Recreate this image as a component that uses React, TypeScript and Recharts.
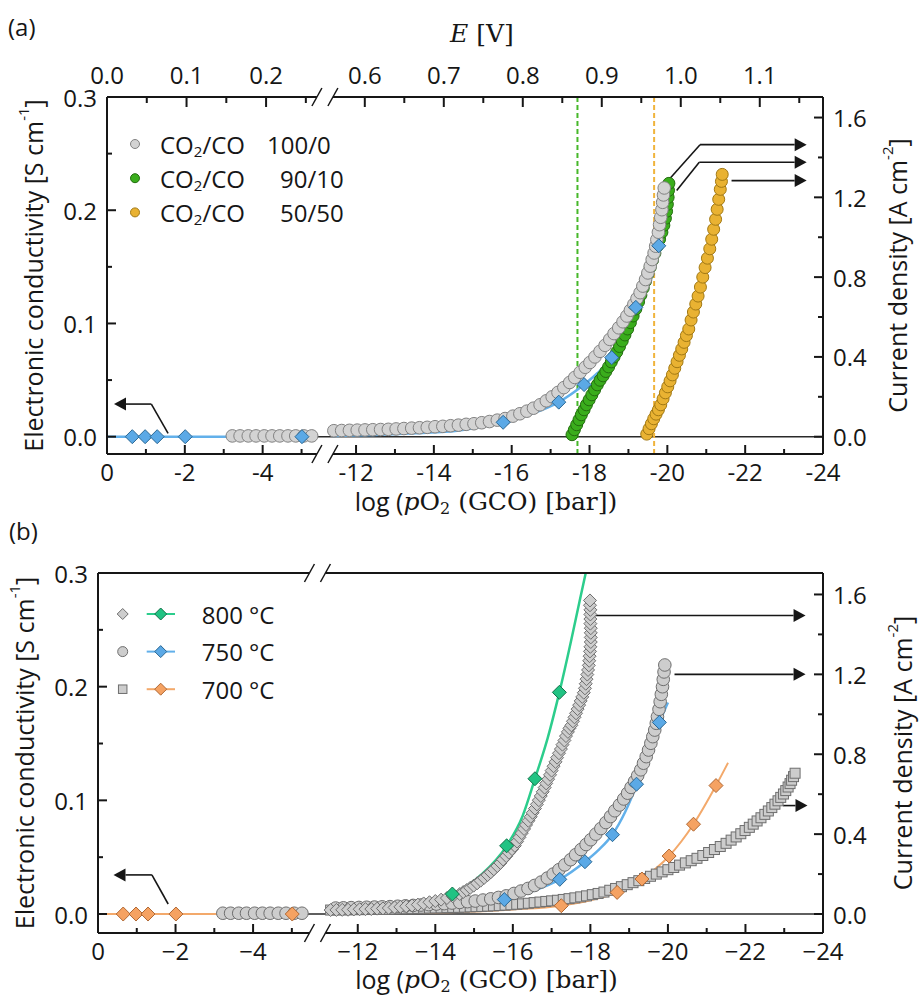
import React from 'react';
import {
  ComposedChart,
  Legend,
  Line,
  ReferenceLine,
  Scatter,
  XAxis,
  YAxis,
} from 'recharts';

type Pt = [number, number];

// ---------- data: [log pO2 (bar), value] ----------
// 750 °C, CO2/CO 100/0 (current density, A cm-2) - same curve in (a) and (b)
const circles750Left: Pt[] = [
  [-3.22, 0.004], [-3.42, 0.004], [-3.63, 0.004], [-3.83, 0.004], [-4.04, 0.004], [-4.24, 0.004],
  [-4.44, 0.004], [-4.65, 0.004], [-4.85, 0.004], [-5.06, 0.004], [-5.26, 0.004],
];
const circles750: Pt[] = [
  [-11.43, 0.03], [-11.63, 0.031], [-11.83, 0.032], [-12.03, 0.033], [-12.23, 0.034], [-12.43, 0.035],
  [-12.63, 0.036], [-12.83, 0.037], [-13.03, 0.039], [-13.23, 0.041], [-13.43, 0.043], [-13.63, 0.045],
  [-13.83, 0.047], [-14.03, 0.05], [-14.23, 0.052], [-14.43, 0.055], [-14.63, 0.058], [-14.83, 0.062],
  [-15.03, 0.065], [-15.23, 0.07], [-15.43, 0.076], [-15.63, 0.083], [-15.83, 0.091], [-16.03, 0.103],
  [-16.21, 0.115], [-16.39, 0.128], [-16.56, 0.143], [-16.73, 0.16], [-16.89, 0.18], [-17.04, 0.2],
  [-17.19, 0.222], [-17.34, 0.246], [-17.49, 0.272], [-17.62, 0.297], [-17.76, 0.323], [-17.89, 0.348],
  [-18.01, 0.372], [-18.14, 0.4], [-18.27, 0.428], [-18.4, 0.458], [-18.52, 0.488], [-18.63, 0.517],
  [-18.75, 0.546], [-18.86, 0.576], [-18.96, 0.605], [-19.05, 0.634], [-19.14, 0.664], [-19.22, 0.693],
  [-19.3, 0.722], [-19.37, 0.755], [-19.44, 0.788], [-19.5, 0.821], [-19.56, 0.855], [-19.61, 0.888],
  [-19.66, 0.921], [-19.7, 0.955], [-19.73, 0.988], [-19.77, 1.025], [-19.8, 1.063], [-19.83, 1.1],
  [-19.86, 1.138], [-19.88, 1.175], [-19.9, 1.212], [-19.92, 1.247],
];
// CO2/CO 90/10
const circles9010: Pt[] = [
  [-17.55, 0.01], [-17.61, 0.035], [-17.67, 0.06], [-17.73, 0.085], [-17.79, 0.11], [-17.86, 0.135],
  [-17.92, 0.16], [-17.99, 0.185], [-18.06, 0.21], [-18.13, 0.235], [-18.2, 0.26], [-18.27, 0.283],
  [-18.35, 0.305], [-18.42, 0.327], [-18.49, 0.35], [-18.56, 0.375], [-18.63, 0.4], [-18.7, 0.425],
  [-18.77, 0.452], [-18.84, 0.48], [-18.91, 0.51], [-18.98, 0.54], [-19.05, 0.572], [-19.12, 0.605],
  [-19.19, 0.64], [-19.26, 0.676], [-19.32, 0.71], [-19.38, 0.745], [-19.44, 0.78], [-19.5, 0.815],
  [-19.56, 0.85], [-19.62, 0.885], [-19.68, 0.92], [-19.74, 0.955], [-19.8, 0.99], [-19.86, 1.025],
  [-19.91, 1.06], [-19.95, 1.095], [-19.98, 1.13], [-20.0, 1.165], [-20.02, 1.2], [-20.03, 1.235],
  [-20.04, 1.27],
];
// CO2/CO 50/50
const circles5050: Pt[] = [
  [-19.47, 0.013], [-19.53, 0.04], [-19.59, 0.065], [-19.65, 0.09], [-19.71, 0.113], [-19.77, 0.135],
  [-19.83, 0.16], [-19.89, 0.19], [-19.95, 0.22], [-20.01, 0.25], [-20.07, 0.28], [-20.13, 0.31],
  [-20.19, 0.343], [-20.25, 0.376], [-20.31, 0.408], [-20.37, 0.44], [-20.43, 0.473], [-20.49, 0.507],
  [-20.55, 0.54], [-20.61, 0.585], [-20.67, 0.625], [-20.73, 0.665], [-20.79, 0.705], [-20.85, 0.75],
  [-20.91, 0.8], [-20.97, 0.848], [-21.03, 0.895], [-21.09, 0.942], [-21.14, 0.99], [-21.19, 1.04],
  [-21.24, 1.09], [-21.28, 1.14], [-21.32, 1.19], [-21.36, 1.24], [-21.39, 1.28], [-21.41, 1.315],
];
// 800 °C current density (b)
const diamonds800: Pt[] = [
  [-11.3, 0.02], [-11.45, 0.0205], [-11.6, 0.021], [-11.75, 0.0215], [-11.9, 0.023], [-12.05, 0.024],
  [-12.2, 0.0245], [-12.35, 0.025], [-12.5, 0.027], [-12.65, 0.028], [-12.8, 0.03], [-12.95, 0.033],
  [-13.1, 0.036], [-13.25, 0.039], [-13.4, 0.043], [-13.55, 0.047], [-13.7, 0.053], [-13.85, 0.059],
  [-14.0, 0.065], [-14.15, 0.072], [-14.3, 0.08], [-14.45, 0.089], [-14.63, 0.1], [-14.72, 0.11],
  [-14.81, 0.12], [-14.9, 0.131], [-14.99, 0.142], [-15.08, 0.154], [-15.17, 0.167], [-15.26, 0.181],
  [-15.35, 0.195], [-15.43, 0.209], [-15.51, 0.224], [-15.6, 0.24], [-15.68, 0.256], [-15.75, 0.273],
  [-15.83, 0.29], [-15.9, 0.307], [-15.98, 0.325], [-16.05, 0.342], [-16.11, 0.363], [-16.17, 0.384],
  [-16.23, 0.405], [-16.29, 0.426], [-16.34, 0.446], [-16.4, 0.467], [-16.46, 0.487], [-16.51, 0.507],
  [-16.57, 0.528], [-16.62, 0.549], [-16.67, 0.57], [-16.72, 0.591], [-16.77, 0.612], [-16.82, 0.633],
  [-16.86, 0.654], [-16.91, 0.675], [-16.96, 0.697], [-17.0, 0.718], [-17.05, 0.74], [-17.1, 0.762],
  [-17.14, 0.783], [-17.19, 0.805], [-17.24, 0.826], [-17.28, 0.848], [-17.33, 0.869], [-17.37, 0.891],
  [-17.42, 0.912], [-17.46, 0.93], [-17.51, 0.945], [-17.55, 0.965], [-17.59, 0.985], [-17.63, 1.005],
  [-17.67, 1.026], [-17.71, 1.046], [-17.75, 1.067], [-17.79, 1.087], [-17.83, 1.108], [-17.86, 1.13],
  [-17.88, 1.153], [-17.9, 1.176], [-17.92, 1.199], [-17.94, 1.222], [-17.96, 1.245], [-17.97, 1.268],
  [-17.98, 1.291], [-17.99, 1.315], [-18.0, 1.338], [-18.01, 1.362], [-18.01, 1.385], [-18.01, 1.408],
  [-18.01, 1.431], [-18.0, 1.454], [-18.0, 1.477], [-18.0, 1.5], [-18.0, 1.523], [-17.99, 1.546],
  [-17.99, 1.57],
];
// 700 °C current density (b)
const squares700: Pt[] = [
  [-11.3, 0.02], [-11.45, 0.0205], [-11.6, 0.021], [-11.75, 0.021], [-11.9, 0.022], [-12.05, 0.022],
  [-12.2, 0.0225], [-12.35, 0.023], [-12.5, 0.024], [-12.65, 0.024], [-12.8, 0.0245], [-12.95, 0.025],
  [-13.1, 0.026], [-13.25, 0.0265], [-13.4, 0.027], [-13.55, 0.028], [-13.7, 0.029], [-13.85, 0.03],
  [-14.0, 0.0305], [-14.15, 0.031], [-14.3, 0.032], [-14.45, 0.033], [-14.6, 0.0335], [-14.75, 0.0345],
  [-14.9, 0.036], [-15.05, 0.037], [-15.2, 0.038], [-15.35, 0.0395], [-15.5, 0.041], [-15.65, 0.0425],
  [-15.8, 0.0445], [-15.95, 0.0465], [-16.1, 0.049], [-16.25, 0.051], [-16.4, 0.054], [-16.55, 0.057],
  [-16.7, 0.06], [-16.85, 0.063], [-17.0, 0.066], [-17.15, 0.069], [-17.3, 0.073], [-17.45, 0.077],
  [-17.6, 0.081], [-17.75, 0.086], [-17.9, 0.091], [-18.05, 0.097], [-18.2, 0.103], [-18.35, 0.11],
  [-18.5, 0.119], [-18.65, 0.128], [-18.8, 0.137], [-18.95, 0.147], [-19.1, 0.157], [-19.25, 0.167],
  [-19.4, 0.178], [-19.55, 0.189], [-19.7, 0.2], [-19.85, 0.211], [-20.0, 0.222], [-20.15, 0.233],
  [-20.3, 0.245], [-20.45, 0.256], [-20.6, 0.267], [-20.75, 0.279], [-20.9, 0.293], [-21.05, 0.308],
  [-21.2, 0.323], [-21.35, 0.338], [-21.5, 0.354], [-21.63, 0.37], [-21.76, 0.386], [-21.88, 0.402],
  [-21.99, 0.418], [-22.1, 0.434], [-22.2, 0.45], [-22.3, 0.466], [-22.4, 0.482], [-22.5, 0.499],
  [-22.59, 0.516], [-22.68, 0.533], [-22.76, 0.55], [-22.84, 0.567], [-22.91, 0.584], [-22.98, 0.601],
  [-23.04, 0.618], [-23.1, 0.636], [-23.15, 0.653], [-23.19, 0.67], [-23.24, 0.688], [-23.28, 0.705],
];

// electronic conductivity (S cm-1)
const condLeft: Pt[] = [[-0.65, 0], [-0.98, 0], [-1.29, 0], [-2.01, 0], [-5.01, 0]];
const cond750: Pt[] = [[-15.78, 0.0127], [-17.21, 0.0305], [-17.86, 0.046], [-18.57, 0.0698], [-19.19, 0.1142], [-19.78, 0.1686]];
const cond800: Pt[] = [[-14.44, 0.0176], [-15.84, 0.06], [-16.57, 0.119], [-17.2, 0.195]];
const cond700: Pt[] = [[-17.25, 0.0073], [-18.69, 0.019], [-19.33, 0.0308], [-20.03, 0.051], [-20.66, 0.079], [-21.24, 0.113]];
const fitLeft: Pt[] = [[0, 0], [-5.3, 0]];
const fit750: Pt[] = [
  [-11.4, 0.0005], [-12.5, 0.0015], [-13.5, 0.003], [-14.65, 0.0055], [-15.2, 0.0085], [-15.78, 0.0127],
  [-16.5, 0.02], [-17.21, 0.0305], [-17.86, 0.046], [-18.2, 0.056], [-18.57, 0.07], [-18.9, 0.09],
  [-19.19, 0.113], [-19.5, 0.14], [-19.78, 0.168], [-20.0, 0.186],
];
const fit800: Pt[] = [
  [-11.3, 0.001], [-12.0, 0.003], [-13.0, 0.0068], [-13.86, 0.012], [-14.44, 0.0176], [-15.2, 0.035],
  [-15.84, 0.06], [-16.25, 0.086], [-16.57, 0.119], [-16.9, 0.155], [-17.2, 0.195], [-17.5, 0.24],
  [-17.72, 0.275], [-17.88, 0.3],
];
const fit700: Pt[] = [
  [-11.3, 0.0005], [-13.0, 0.001], [-14.7, 0.002], [-16.0, 0.004], [-17.25, 0.0073], [-18.0, 0.012],
  [-18.69, 0.019], [-19.33, 0.0308], [-20.03, 0.051], [-20.66, 0.079], [-21.24, 0.113], [-21.55, 0.133],
];

// vertical markers (a), log pO2
const dashGreen = -17.69;
const dashGold = -19.66;

// arrows: [[log, value], ...], last segment gets the head
const arrowsA = [
  { axis: 'L', pts: [[-1.57, 0.003], [-1.14, 0.0288], [-0.18, 0.0288]] },
  { axis: 'R', pts: [[-20.02, 1.284], [-20.84, 1.464], [-23.58, 1.464]] },
  { axis: 'R', pts: [[-20.24, 1.234], [-20.82, 1.376], [-23.58, 1.376]] },
  { axis: 'R', pts: [[-21.65, 1.284], [-23.58, 1.284]] },
];
const arrowsB = [
  { axis: 'L', pts: [[-1.81, 0.0088], [-1.39, 0.0344], [-0.4, 0.0344]] },
  { axis: 'R', pts: [[-18.04, 1.495], [-23.55, 1.495]] },
  { axis: 'R', pts: [[-20.17, 1.2], [-23.55, 1.2]] },
  { axis: 'R', pts: [[-22.97, 0.543], [-23.6, 0.543]] },
];

// ticks
const X_TICKS = [0, -1, -2, -3, -4, -5, -12, -13, -14, -15, -16, -17, -18, -19, -20, -21, -22, -23, -24];
const E_TICKS = [0, 0.05, 0.1, 0.15, 0.2, 0.25, 0.6, 0.65, 0.7, 0.75, 0.8, 0.85, 0.9, 0.95, 1.0, 1.05, 1.1, 1.15];
const COND_TICKS = [0, 0.05, 0.1, 0.15, 0.2, 0.25, 0.3];
const CURR_TICKS = [0, 0.2, 0.4, 0.6, 0.8, 1.0, 1.2, 1.4, 1.6];

// ---------- axis break helpers ----------
const A = { brk: 5.6, shift: 5.6, span: 18.4 };
const B = { brk: 5.66, shift: 5.3, span: 18.7 };
const posOf = (cfg: typeof A) => (log: number) => (log > -8 ? -log : -log - cfg.shift);
const posA = posOf(A);
const posB = posOf(B);
const ePos = (e: number) => (e < 0.4 ? e * 20.44 : 6.625 + (e - 0.6) * 20.3);

const toXY = (arr: Pt[], pos: (l: number) => number) => arr.map(([l, v]) => ({ x: pos(l), y: v }));
const withGap = (left: Pt[], right: Pt[], pos: (l: number) => number, brk: number) => [
  ...toXY(left, pos),
  { x: brk, y: null },
  ...toXY(right, pos),
];

// ---------- styles ----------
const INK = '#161616';
const SANS = "'Open Sans', 'Noto Sans', sans-serif";
const SERIF = "'DejaVu Serif', serif";
const FS = 24;
const TFS = 25;

const GRAY = { fill: '#d3d3d3', stroke: '#828282' };
const GRAY_B = { fill: '#cdcdcd', stroke: '#6e6e6e' };
const GREEN_A = { fill: '#3aad1c', stroke: '#236d0f' };
const GOLD = { fill: '#e9b232', stroke: '#a27914' };
const BLUE = { fill: '#5ba9e6', stroke: '#2b6894', line: '#62b0ea' };
const TEAL = { fill: '#21c383', stroke: '#137149', line: '#2ccd8c' };
const ORANGE = { fill: '#f5a262', stroke: '#b06834', line: '#f3a96b' };

const circle = (c: { fill: string; stroke: string }, r: number) => (p: any) => (
  <circle cx={p.cx} cy={p.cy} r={r} fill={c.fill} stroke={c.stroke} strokeWidth={1} />
);
const diamond = (c: { fill: string; stroke: string }, h: number) => (p: any) => (
  <polygon
    points={`${p.cx},${p.cy - h} ${p.cx + h},${p.cy} ${p.cx},${p.cy + h} ${p.cx - h},${p.cy}`}
    fill={c.fill}
    stroke={c.stroke}
    strokeWidth={1}
  />
);
const square = (c: { fill: string; stroke: string }, s: number) => (p: any) => (
  <rect x={p.cx - s / 2} y={p.cy - s / 2} width={s} height={s} fill={c.fill} stroke={c.stroke} strokeWidth={1} />
);

const Arrow = (props: any) => {
  const { x1, y1, x2, y2, head } = props;
  if (!head) return <line x1={x1} y1={y1} x2={x2} y2={y2} stroke={INK} strokeWidth={1.6} />;
  const a = Math.atan2(y2 - y1, x2 - x1);
  const L = 12;
  const W = 6.5;
  const bx = x2 - L * Math.cos(a);
  const by = y2 - L * Math.sin(a);
  const px = -Math.sin(a) * W;
  const py = Math.cos(a) * W;
  return (
    <g>
      <line x1={x1} y1={y1} x2={bx} y2={by} stroke={INK} strokeWidth={1.6} />
      <polygon points={`${x2},${y2} ${bx + px},${by + py} ${bx - px},${by - py}`} fill={INK} />
    </g>
  );
};

const BreakMark = ({ x, y }: { x: number; y: number }) => (
  <g>
    <rect x={x - 8} y={y - 3} width={16} height={6} fill="#fff" />
    <line x1={x - 13} y1={y + 9} x2={x - 3} y2={y - 9} stroke={INK} strokeWidth={1.5} />
    <line x1={x + 3} y1={y + 9} x2={x + 13} y2={y - 9} stroke={INK} strokeWidth={1.5} />
  </g>
);

const tickText = { fontSize: FS, fontFamily: SANS, fill: INK };

const bottomTick = (cfg: typeof A, minus: string) => (props: any) => {
  const { x, y, payload } = props;
  const v = payload.value;
  if (Math.abs(v - cfg.brk) < 1e-6) return <BreakMark x={x} y={y} />;
  const n = Math.round(v < cfg.brk ? -v : -(v + cfg.shift));
  const major = n % 2 === 0;
  return (
    <g>
      <line x1={x} y1={y} x2={x} y2={y - (major ? 9 : 5)} stroke={INK} strokeWidth={2} />
      {major && (
        <text x={x} y={y + 17} textAnchor="middle" dominantBaseline="central" {...tickText}>
          {n === 0 ? '0' : minus + Math.abs(n)}
        </text>
      )}
    </g>
  );
};

const topTickA = (props: any) => {
  const { x, y, payload } = props;
  const v = payload.value;
  if (Math.abs(v - A.brk) < 1e-6) return <BreakMark x={x} y={y} />;
  const e = v < A.brk ? v / 20.44 : 0.6 + (v - 6.625) / 20.3;
  const k = Math.round(e * 20);
  const major = k % 2 === 0;
  return (
    <g>
      <line x1={x} y1={y} x2={x} y2={y + (major ? 10 : 6)} stroke={INK} strokeWidth={2} />
      {major && (
        <text x={x} y={y - 23} textAnchor="middle" dominantBaseline="central" {...tickText}>
          {(k / 20).toFixed(1)}
        </text>
      )}
    </g>
  );
};

const breakOnly = (brk: number) => (props: any) =>
  Math.abs(props.payload.value - brk) < 1e-6 ? <BreakMark x={props.x} y={props.y} /> : <g />;

const leftTick = (props: any) => {
  const { x, y, payload } = props;
  const v = payload.value;
  const major = Math.round(v * 100) % 10 === 0;
  return (
    <g>
      <line x1={x} y1={y} x2={x + (major ? 9 : 5)} y2={y} stroke={INK} strokeWidth={2} />
      {major && (
        <text x={x - 10} y={y} textAnchor="end" dominantBaseline="central" {...tickText}>
          {v.toFixed(1)}
        </text>
      )}
    </g>
  );
};

const rightTick = (props: any) => {
  const { x, y, payload } = props;
  const v = payload.value;
  const major = Math.round(v * 10) % 4 === 0;
  return (
    <g>
      <line x1={x} y1={y} x2={x - (major ? 9 : 5)} y2={y} stroke={INK} strokeWidth={2} />
      {major && (
        <text x={x + 10} y={y} textAnchor="start" dominantBaseline="central" {...tickText}>
          {v.toFixed(1)}
        </text>
      )}
    </g>
  );
};

const condTitle = (props: any) => {
  const vb = props.viewBox;
  const x = vb.x + vb.width - 74;
  const y = vb.y + vb.height / 2;
  return (
    <text x={x} y={y} transform={`rotate(-90 ${x} ${y})`} textAnchor="middle" dominantBaseline="central" fontFamily={SANS} fontSize={TFS} fill={INK}>
      Electronic conductivity [S cm<tspan dy={-10} fontSize={15}>-1</tspan>
      <tspan dy={10}>]</tspan>
    </text>
  );
};

const currTitle = (dx: number) => (props: any) => {
  const vb = props.viewBox;
  const x = vb.x + dx;
  const y = vb.y + vb.height / 2;
  return (
    <text x={x} y={y} transform={`rotate(-90 ${x} ${y})`} textAnchor="middle" dominantBaseline="central" fontFamily={SANS} fontSize={TFS} fill={INK}>
      Current density [A cm<tspan dy={-10} fontSize={15}>-2</tspan>
      <tspan dy={10}>]</tspan>
    </text>
  );
};

const pO2Title = (dx: number, dy: number) => (props: any) => {
  const vb = props.viewBox;
  const x = vb.x + vb.width / 2 + dx;
  const y = vb.y + dy;
  return (
    <text x={x} y={y} textAnchor="middle" dominantBaseline="central" fontFamily={SANS} fontSize={TFS} fill={INK}>
      log (
      <tspan fontFamily={SERIF} fontStyle="italic">p</tspan>
      <tspan fontFamily={SERIF}>O</tspan>
      <tspan fontFamily={SERIF} fontSize={16} dy={7}>2</tspan>
      <tspan fontFamily={SERIF} dy={-7}> (GCO) [bar])</tspan>
    </text>
  );
};

const eTitle = (props: any) => {
  const vb = props.viewBox;
  const x = vb.x + vb.width / 2 + 17;
  const y = vb.y + 33;
  return (
    <text x={x} y={y} textAnchor="middle" dominantBaseline="central" fontFamily={SERIF} fontSize={TFS} fill={INK}>
      <tspan fontStyle="italic">E</tspan> [V]
    </text>
  );
};

const legendRowsA = [
  { c: GRAY, ratio: '100/0', nx: 147 },
  { c: GREEN_A, ratio: '90/10', nx: 160 },
  { c: GOLD, ratio: '50/50', nx: 160 },
];
const LegendA = () => (
  <svg width={260} height={110} style={{ overflow: 'visible' }}>
    {legendRowsA.map((r, i) => {
      const y = 19 + i * 34.2;
      return (
        <g key={r.ratio}>
          <circle cx={15} cy={y} r={4.5} fill={r.c.fill} stroke={r.c.stroke} strokeWidth={1} />
          <text x={40} y={y} dominantBaseline="central" fontFamily={SANS} fontSize={FS} fill={INK}>
            CO<tspan fontSize={15} dy={7}>2</tspan>
            <tspan dy={-7}>/CO</tspan>
          </text>
          <text x={r.nx} y={y} dominantBaseline="central" fontFamily={SANS} fontSize={FS} fill={INK}>
            {r.ratio}
          </text>
        </g>
      );
    })}
  </svg>
);

const legendRowsB = [
  { t: '800 °C', c: TEAL, shape: 'diamond' },
  { t: '750 °C', c: BLUE, shape: 'circle' },
  { t: '700 °C', c: ORANGE, shape: 'square' },
];
const LegendB = () => (
  <svg width={200} height={110} style={{ overflow: 'visible' }}>
    {legendRowsB.map((r, i) => {
      const y = 14 + i * 37.6;
      const gx = 12.7;
      return (
        <g key={r.t}>
          {r.shape === 'diamond' && diamond(GRAY_B, 5.5)({ cx: gx, cy: y })}
          {r.shape === 'circle' && circle(GRAY_B, 5)({ cx: gx, cy: y })}
          {r.shape === 'square' && square(GRAY_B, 8.5)({ cx: gx, cy: y })}
          <line x1={36.7} y1={y} x2={65} y2={y} stroke={r.c.line} strokeWidth={2} />
          {diamond(r.c, 6)({ cx: 50.7, cy: y })}
          <text x={91.7} y={y} dominantBaseline="central" fontFamily={SANS} fontSize={FS} fill={INK}>
            {r.t}
          </text>
        </g>
      );
    })}
  </svg>
);

const axisLine = { stroke: INK, strokeWidth: 2 };
const bottomTicks = (cfg: typeof A, pos: (l: number) => number) =>
  [...X_TICKS.map(pos), cfg.brk].sort((a, b) => a - b);

const ChartA = () => (
  <ComposedChart width={921} height={530} margin={{ top: 0, right: 0, bottom: 0, left: 0 }}>
    <XAxis
      xAxisId="b" type="number" dataKey="x" domain={[0, A.span]} allowDataOverflow
      ticks={bottomTicks(A, posA)} interval={0} tick={bottomTick(A, '-')} tickLine={false}
      tickSize={0} tickMargin={0} height={76} axisLine={axisLine} label={pO2Title(21, 47)}
    />
    <XAxis
      xAxisId="t" orientation="top" type="number" dataKey="x" domain={[0, A.span]} allowDataOverflow
      ticks={[...E_TICKS.map(ePos), A.brk].sort((a, b) => a - b)} interval={0} tick={topTickA}
      tickLine={false} tickSize={0} tickMargin={0} height={97} axisLine={axisLine} label={eTitle}
    />
    <YAxis
      yAxisId="L" type="number" domain={[-0.0153, 0.3]} allowDataOverflow ticks={COND_TICKS} interval={0}
      tick={leftTick} tickLine={false} tickSize={0} tickMargin={0} width={107} axisLine={axisLine} label={condTitle}
    />
    <YAxis
      yAxisId="R" orientation="right" type="number" domain={[-0.0867, 1.703]} allowDataOverflow ticks={CURR_TICKS}
      interval={0} tick={rightTick} tickLine={false} tickSize={0} tickMargin={0} width={98} axisLine={axisLine}
      label={currTitle(74)}
    />
    <ReferenceLine xAxisId="b" yAxisId="L" y={0} stroke="#2a2a2a" strokeWidth={1.5} />
    <ReferenceLine xAxisId="b" yAxisId="L" x={posA(dashGreen)} stroke="#46b82a" strokeWidth={2} strokeDasharray="5 3" />
    <ReferenceLine xAxisId="b" yAxisId="L" x={posA(dashGold)} stroke="#f0b43c" strokeWidth={2} strokeDasharray="5 3" />
    <Scatter xAxisId="b" yAxisId="R" data={toXY(circles9010, posA)} dataKey="y" shape={circle(GREEN_A, 6)} isAnimationActive={false} />
    <Scatter xAxisId="b" yAxisId="R" data={toXY(circles5050, posA)} dataKey="y" shape={circle(GOLD, 6)} isAnimationActive={false} />
    <Scatter xAxisId="b" yAxisId="R" data={toXY([...circles750Left, ...circles750], posA)} dataKey="y" shape={circle(GRAY, 6.3)} isAnimationActive={false} />
    <Line
      xAxisId="b" yAxisId="L" data={withGap(fitLeft, fit750, posA, A.brk)} dataKey="y" type="monotone"
      stroke={BLUE.line} strokeWidth={2.5} dot={false} connectNulls={false} isAnimationActive={false}
    />
    <Scatter xAxisId="b" yAxisId="L" data={toXY([...condLeft, ...cond750], posA)} dataKey="y" shape={diamond(BLUE, 7)} isAnimationActive={false} />
    {arrowsA.flatMap((a, i) =>
      a.pts.slice(1).map((p, j) => (
        <ReferenceLine
          key={`a${i}-${j}`} xAxisId="b" yAxisId={a.axis} ifOverflow="visible"
          segment={[{ x: posA(a.pts[j][0]), y: a.pts[j][1] }, { x: posA(p[0]), y: p[1] }]}
          shape={(sp: any) => <Arrow {...sp} head={j === a.pts.length - 2} />}
        />
      )),
    )}
    <Legend
      layout="vertical" align="center" verticalAlign="middle" content={<LegendA />}
      wrapperStyle={{ left: 120, top: 125, width: 260, height: 110 }}
    />
  </ComposedChart>
);

const ChartB = () => (
  <ComposedChart width={921} height={470} margin={{ top: 0, right: 0, bottom: 0, left: 0 }}>
    <XAxis
      xAxisId="b" type="number" dataKey="x" domain={[0, B.span]} allowDataOverflow
      ticks={bottomTicks(B, posB)} interval={0} tick={bottomTick(B, '\u2212')} tickLine={false}
      tickSize={0} tickMargin={0} height={67} axisLine={axisLine} label={pO2Title(26, 46)}
    />
    <XAxis
      xAxisId="t" orientation="top" type="number" dataKey="x" domain={[0, B.span]} allowDataOverflow
      ticks={[B.brk]} interval={0} tick={breakOnly(B.brk)} tickLine={false} tickSize={0} tickMargin={0}
      height={43} axisLine={axisLine}
    />
    <YAxis
      yAxisId="L" type="number" domain={[-0.0167, 0.3]} allowDataOverflow ticks={COND_TICKS} interval={0}
      tick={leftTick} tickLine={false} tickSize={0} tickMargin={0} width={98} axisLine={axisLine} label={condTitle}
    />
    <YAxis
      yAxisId="R" orientation="right" type="number" domain={[-0.095, 1.7075]} allowDataOverflow ticks={CURR_TICKS}
      interval={0} tick={rightTick} tickLine={false} tickSize={0} tickMargin={0} width={98} axisLine={axisLine}
      label={currTitle(79)}
    />
    <ReferenceLine xAxisId="b" yAxisId="L" y={0} stroke="#2a2a2a" strokeWidth={1.5} />
    <Scatter xAxisId="b" yAxisId="R" data={toXY(squares700, posB)} dataKey="y" shape={square(GRAY_B, 10)} isAnimationActive={false} />
    <Scatter xAxisId="b" yAxisId="R" data={toXY([...circles750Left, ...circles750], posB)} dataKey="y" shape={circle(GRAY_B, 6.3)} isAnimationActive={false} />
    <Scatter xAxisId="b" yAxisId="R" data={toXY(diamonds800, posB)} dataKey="y" shape={diamond(GRAY_B, 6.5)} isAnimationActive={false} />
    <Line
      xAxisId="b" yAxisId="L" data={toXY(fit750, posB)} dataKey="y" type="monotone"
      stroke={BLUE.line} strokeWidth={2.5} dot={false} isAnimationActive={false}
    />
    <Line
      xAxisId="b" yAxisId="L" data={withGap(fitLeft, fit700, posB, B.brk)} dataKey="y" type="monotone"
      stroke={ORANGE.line} strokeWidth={2} dot={false} connectNulls={false} isAnimationActive={false}
    />
    <Line
      xAxisId="b" yAxisId="L" data={toXY(fit800, posB)} dataKey="y" type="monotone"
      stroke={TEAL.line} strokeWidth={2.5} dot={false} isAnimationActive={false}
    />
    <Scatter xAxisId="b" yAxisId="L" data={toXY(cond750, posB)} dataKey="y" shape={diamond(BLUE, 7)} isAnimationActive={false} />
    <Scatter xAxisId="b" yAxisId="L" data={toXY(cond800, posB)} dataKey="y" shape={diamond(TEAL, 7)} isAnimationActive={false} />
    <Scatter xAxisId="b" yAxisId="L" data={toXY([...condLeft, ...cond700], posB)} dataKey="y" shape={diamond(ORANGE, 7)} isAnimationActive={false} />
    {arrowsB.flatMap((a, i) =>
      a.pts.slice(1).map((p, j) => (
        <ReferenceLine
          key={`b${i}-${j}`} xAxisId="b" yAxisId={a.axis} ifOverflow="visible"
          segment={[{ x: posB(a.pts[j][0]), y: a.pts[j][1] }, { x: posB(p[0]), y: p[1] }]}
          shape={(sp: any) => <Arrow {...sp} head={j === a.pts.length - 2} />}
        />
      )),
    )}
    <Legend
      layout="vertical" align="center" verticalAlign="middle" content={<LegendB />}
      wrapperStyle={{ left: 110, top: 70, width: 200, height: 110 }}
    />
  </ComposedChart>
);

export default function App() {
  return (
    <div style={{ position: 'absolute', left: 0, top: 0, width: 921, height: 1000, background: '#fff' }}>
      <div style={{ position: 'absolute', left: 0, top: 0 }}>
        <ChartA />
      </div>
      <div style={{ position: 'absolute', left: 0, top: 530 }}>
        <ChartB />
      </div>
      <div style={{ position: 'absolute', left: 8, top: 13, fontFamily: SANS, fontSize: FS, lineHeight: '28px', color: INK }}>(a)</div>
      <div style={{ position: 'absolute', left: 9, top: 517, fontFamily: SANS, fontSize: FS, lineHeight: '28px', color: INK }}>(b)</div>
    </div>
  );
}
